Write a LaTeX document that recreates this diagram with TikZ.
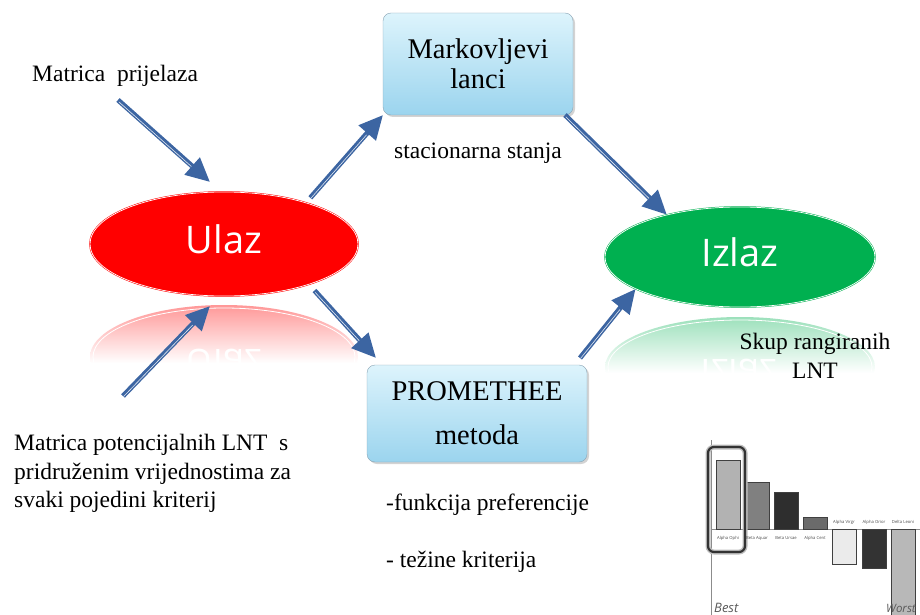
\documentclass[tikz,border=0pt]{standalone}
\usepackage{fontspec}
\setmainfont{Liberation Serif}
\setsansfont{Open Sans}
\usetikzlibrary{calc,arrows.meta,shapes.geometric,shadows}

\definecolor{strelica}{HTML}{3C65A2}
\definecolor{crvena}{HTML}{FF0000}
\definecolor{zelena}{HTML}{00B050}
\definecolor{plavagore}{HTML}{DDF4FC}
\definecolor{plavadolje}{HTML}{9BD4EE}
\definecolor{rub}{HTML}{8AA4B4}

\begin{document}
\begin{tikzpicture}[x=1pt,y=-1pt,
	flow/.style={draw=strelica, line width=5pt, -{Triangle[length=24pt,width=22pt]},
		postaction={draw=white!85!strelica, line width=0.6pt, -, shorten >=25pt, shorten <=1pt,
			transform canvas={yshift=-1.1pt}}},
	oval/.style={ellipse, minimum width=268pt, minimum height=104pt, draw=#1, double=white,
		double distance=0.7pt, line width=0.5pt, fill=#1, text=white, text height=29pt, text depth=10pt,
		font=\sffamily\fontsize{38}{40}\selectfont},
	kutija/.style={rectangle, rounded corners=8pt, draw=rub, top color=plavagore, bottom color=plavadolje,
		drop shadow={opacity=0.35, shadow xshift=2pt, shadow yshift=-2pt}, align=center, outer sep=0pt,
		font=\fontsize{28.5}{30}\selectfont},
	tekst/.style={anchor=base west, inner sep=0pt, font=\fontsize{23.5}{28.5}\selectfont},
	oznaka/.style={inner sep=0pt, font=\sffamily\fontsize{4.2}{4.5}\selectfont, text=black!70}]

	\useasboundingbox (0,0) rectangle (920,615);

	% odrazi ispod elipsi
	\begin{scope}
		\clip (80,303) rectangle (370,362);
		\clip (224,357) ellipse [x radius=134, y radius=52];
		\shade[top color=red!42, bottom color=white] (80,303) rectangle (370,363);
		\draw[white, line width=0.8pt] (224,357) ellipse [x radius=131, y radius=49];
		\node[yscale=-1, anchor=base, text=white, font=\sffamily\fontsize{38}{40}\selectfont] (ulazodraz) at (224,349) {Ulaz};
	\end{scope}
	\begin{scope}
		\clip (595,315) rectangle (885,372);
		\clip (740,367) ellipse [x radius=135, y radius=50];
		\shade[top color=zelena!40, bottom color=white] (595,315) rectangle (885,373);
		\draw[white, line width=0.8pt] (740,367) ellipse [x radius=132, y radius=47];
		\node[yscale=-1, anchor=base, text=white, font=\sffamily\fontsize{38}{40}\selectfont] (izlazodraz) at (739,359) {Izlaz};
	\end{scope}

	\node[oval=crvena] (ulaz) at (224,244) {Ulaz};
	\node[oval=zelena, minimum width=270pt, minimum height=100pt] (izlaz) at (740,257) {Izlaz};

	\node[kutija, minimum width=190pt, minimum height=102pt] (markov) at (478,64) {Markovljevi\\lanci};
	\node[kutija, minimum width=220pt, minimum height=97pt] (prom) at (477,413.5) {PROMETHEE\\[14pt]metoda};

	% tekstovi
	\node[tekst] (prijelaza) at (32,82) {Matrica\ \ prijelaza};
	\node[tekst] (stanja) at (394,158) {stacionarna stanja};
	\node[anchor=north, inner sep=0pt, align=center, font=\fontsize{23.5}{29}\selectfont] (skup) at (815,332.5) {Skup rangiranih\\LNT};
	\node[anchor=north west, inner sep=0pt, align=left, font=\fontsize{23.5}{28.5}\selectfont] (matrica) at (14,434) {Matrica potencijalnih LNT\ \ s\\pridruženim vrijednostima za\\svaki pojedini kriterij};
	\node[tekst] (funkcija) at (386,510) {-funkcija preferencije};
	\node[tekst] (tezine) at (386,567) {- težine kriterija};

	% strelice
	\coordinate (gore) at (118,100);
	\coordinate (goretip) at (210,182);
	\coordinate (dolje) at (123,396);
	\coordinate (doljetip) at (210,306);

	\draw[flow] (gore) -- (goretip);
	\draw[flow] (dolje) -- (doljetip);
	\draw[flow] ($(ulaz.28)+(7,-4)$) -- (markov.south west);
	\draw[flow] ($(markov.south east)+(-8,0)$) -- (izlaz.150);
	\draw[flow] ($(ulaz.-27)+(9,5)$) -- ($(prom.north west)+(9,-7)$);
	\draw[flow] ($(prom.north east)+(-7,-7)$) -- (izlaz.197);

	% graf rangiranja
	\draw[black!45, line width=0.6pt] (711,440) -- (711,615);
	\draw[black!45, line width=0.6pt] (711,529) -- (920,529);
	\node[oznaka, anchor=east] (nula) at (710,529) {0};
	\foreach \x/\h/\g in {716/460/30, 745/482/50, 774/492/82, 803/517/58, 832/564/8, 862/568/80, 891/616/28}
		\draw[fill=black!\g, draw=black!75, line width=0.6pt] (\x,529) rectangle (\x+24,\h);
	\draw[black!25, line width=5pt, rounded corners=6pt] (708,447) rectangle (745,552);
	\draw[black!80, line width=2.2pt, rounded corners=6pt] (708,447) rectangle (745,552);
	\foreach \x/\ime in {728/Alpha Ophi, 757/Beta Aquar, 786/Beta Ursae, 815/Alpha Cent}
		\node[oznaka] at (\x,538) {\ime};
	\foreach \x/\ime in {844/Alpha Virgr, 874/Alpha Orior, 903/Delta Leoni}
		\node[oznaka] at (\x,522) {\ime};
	\node[anchor=base west, inner sep=0pt, text=black!65, font=\sffamily\itshape\fontsize{13}{13}\selectfont] (best) at (714,612) {Best};
	\node[anchor=base west, inner sep=0pt, text=black!65, font=\sffamily\itshape\fontsize{11.5}{12}\selectfont] (worst) at (886,612) {Worst};

\end{tikzpicture}
\end{document}
